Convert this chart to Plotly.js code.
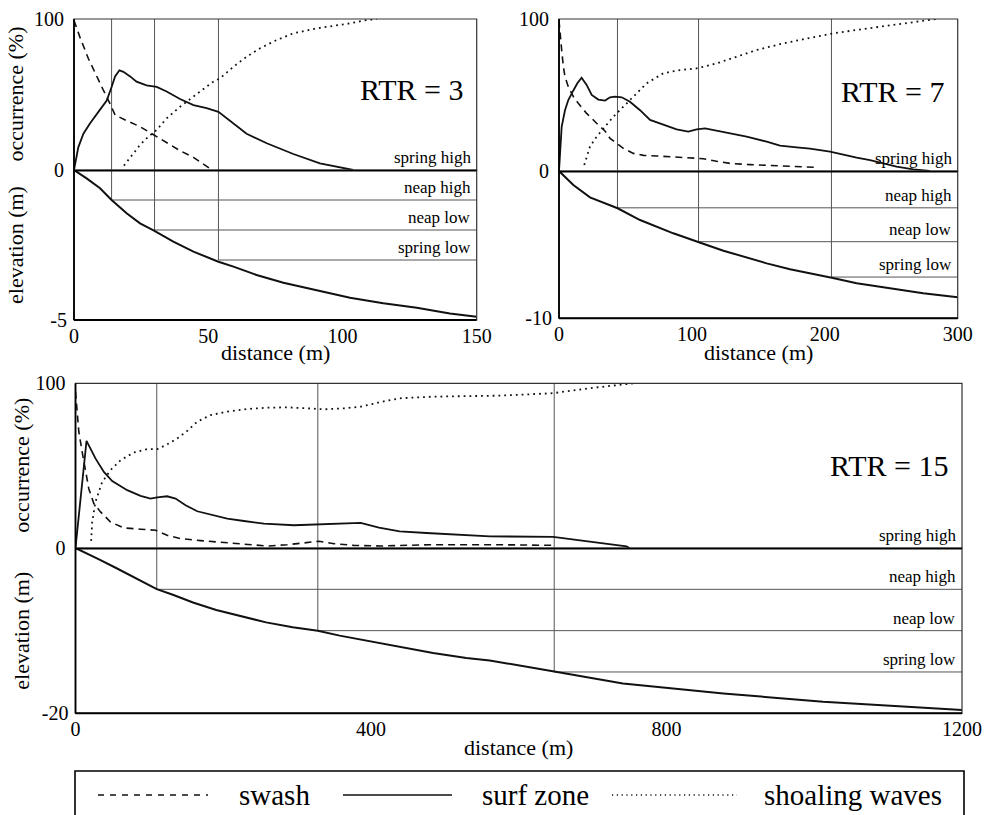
<!DOCTYPE html>
<html><head><meta charset="utf-8">
<script src="https://cdn.plot.ly/plotly-3.0.1.min.js"></script>
<style>html,body{margin:0;padding:0;background:#fff}#chart{width:988px;height:815px}</style>
</head><body><div id="chart"></div>
<script>
// ---------- DATA ----------
const tideNames = ['spring high', 'neap high', 'neap low', 'spring low'];
const seriesNames = ['swash', 'surf zone', 'shoaling waves'];

// RTR = 3
const rtr3XTicks = [0, 50, 100, 150];
const rtr3TideLevels = [0, -1, -2, -3];
const rtr3CrossX = [14, 30, 53.8];
const rtr3SwashX = [0, 2.2, 5.3, 8.4, 10.9, 13.4, 15.3, 19.6, 24.6, 29.8, 34.5, 39.5, 44.5, 50, 50.7];
const rtr3SwashY = [99, 88, 74, 62, 53, 44, 36.4, 32.7, 28.7, 23.2, 18.1, 12.8, 8.4, 2.2, 0.9];
const rtr3SurfX = [0, 1.6, 3.5, 6, 9.7, 12.2, 14, 15.3, 16.9, 18.4, 20.9, 23.3, 27, 30.8, 34.5, 39.5, 44.5, 49.4, 53.8, 59.4, 64.3, 71.8, 81.7, 91.6, 101.6, 104];
const rtr3SurfY = [0, 15, 24, 31, 40, 46, 55, 62, 66, 65, 62, 58.5, 56, 55, 52, 47, 43, 41, 38.5, 31, 24, 17.7, 10.6, 4.4, 1.1, 0];
const rtr3ShoalX = [18.6, 21.5, 24.6, 27.7, 30.8, 34.5, 39.5, 46.9, 51.9, 54.4, 59.4, 64.3, 69.3, 75.5, 81.7, 90.4, 96.6, 102.8, 109, 112.8];
const rtr3ShoalY = [2.9, 9.9, 16.6, 22.1, 26.5, 34.2, 41.9, 51.9, 58.5, 60.7, 68.4, 75, 80.6, 86.1, 90.5, 93.8, 95.4, 97.1, 99.3, 100];
const rtr3ElevX = [0, 4.7, 9.7, 14, 19.6, 24.6, 29.8, 37, 44.5, 53.8, 59.4, 68, 78, 90.4, 102.8, 115.2, 127.7, 140, 150];
const rtr3ElevY = [0, -0.28, -0.61, -1.0, -1.44, -1.78, -2.02, -2.39, -2.72, -3.06, -3.22, -3.5, -3.76, -4.02, -4.26, -4.44, -4.59, -4.78, -4.89];

// RTR = 7
const rtr7XTicks = [0, 100, 200, 300];
const rtr7TideLevels = [0, -2.5, -4.8, -7.2];
const rtr7CrossX = [44, 105, 205];
const rtr7SwashX = [0, 0.75, 2, 3.3, 4.5, 7, 10.8, 14.5, 20.8, 28.3, 34.6, 38.4, 43.4, 48.4, 55.9, 63.5, 73.5, 83.5, 98.6, 108.6, 118.6, 128.7, 143.7, 161.3, 178.8, 192.6];
const rtr7SwashY = [99, 90.6, 79.6, 68.6, 62, 55.5, 48.9, 44.5, 37.9, 31.4, 26.3, 21.5, 18.2, 14.9, 11.6, 10.3, 9.9, 9.4, 9, 8.1, 6.4, 5, 4.2, 3.5, 2.9, 2.4];
const rtr7SurfX = [0, 1.25, 2, 4.5, 7, 10.8, 13.8, 17, 20.8, 24.6, 29.6, 34.6, 38.4, 42.1, 47.2, 53.4, 61, 68.5, 78.5, 88.5, 97.3, 103.6, 109.9, 118.6, 128.7, 141.2, 156.3, 166.3, 178.8, 188.9, 203.9, 214, 224, 234, 244, 254, 266.6, 279];
const rtr7SurfY = [0, 20, 29, 40, 46.7, 53, 57.7, 61.4, 56.6, 50, 47, 46.3, 48.5, 48.9, 48.5, 45.6, 40, 33.6, 30.3, 27.4, 25.9, 27.4, 28.1, 26.5, 24.8, 22.6, 19.3, 16.7, 15.6, 14.7, 12.7, 10.5, 8.8, 7.2, 5, 2.9, 1.1, 0];
const rtr7ShoalX = [19, 20.8, 23.3, 28.3, 34.6, 40.9, 48.4, 55.9, 66, 78.5, 91, 103.6, 118.6, 133.7, 148.7, 168.8, 188.9, 206.4, 224, 249, 269, 284];
const rtr7ShoalY = [4, 9.4, 16, 22.6, 29.2, 35.7, 42.3, 48.9, 57.7, 64.3, 66.4, 67.5, 70.8, 75.2, 79.6, 84, 87.3, 90.6, 92.8, 96, 98.2, 100];
const rtr7ElevX = [0, 10.8, 23.3, 44.1, 61, 86, 105.3, 123.7, 156.3, 173.8, 205.2, 224, 249, 274, 300];
const rtr7ElevY = [0, -0.95, -1.79, -2.53, -3.33, -4.23, -4.84, -5.41, -6.27, -6.67, -7.24, -7.62, -7.96, -8.3, -8.57];

// RTR = 15
const rtr15XTicks = [0, 400, 800, 1200];
const rtr15TideLevels = [0, -5, -10, -15];
const rtr15CrossX = [110, 328, 648];
const rtr15SwashX = [0, 2.3, 4.5, 9, 13.5, 18, 24.8, 33.9, 47.4, 65.5, 88, 108.4, 124, 142.2, 169.3, 205.4, 232.5, 259.6, 286.7, 313.8, 329.6, 350, 377, 413, 480, 570, 648];
const rtr15SwashY = [95, 80.7, 70.6, 58.4, 46.2, 36, 27, 21.9, 15.8, 12.2, 11.4, 10.8, 7.7, 5.7, 4.5, 3.2, 2, 1.2, 2, 3.2, 4.1, 2.6, 1.6, 1.2, 2, 2, 1.6];
const rtr15SurfX = [0, 14.9, 27, 38.4, 49.7, 70, 88, 101.6, 110.6, 124, 135.4, 149, 164.8, 182.8, 205.4, 228, 255, 295.7, 329.6, 372.5, 386, 410.8, 438.8, 475, 529, 561, 646.5, 696, 745.8, 750];
const rtr15SurfY = [0, 65, 54.4, 46.2, 40.6, 35.1, 31.6, 30, 30.8, 31.4, 30, 26, 22.3, 20.3, 17.8, 16.4, 14.8, 13.8, 14.4, 15.4, 15.2, 12.4, 10.1, 9.1, 8.1, 7.1, 6.7, 4, 1, 0];
const rtr15ShoalX = [21.2, 22.6, 27, 36, 47.4, 61, 79, 97, 110.6, 124, 137.7, 151, 164.8, 182.8, 205.4, 232.5, 259.6, 286.7, 313.8, 336.3, 363.4, 386, 416, 438.8, 484, 529, 574, 646.5, 696, 755];
const rtr15ShoalY = [4.3, 15.8, 28, 40, 47.3, 53.3, 58, 60, 60, 62.9, 66.5, 71, 76.7, 80.7, 82.8, 84.4, 85.2, 85.4, 84.8, 84.2, 84.8, 85.8, 88.9, 90.9, 91.9, 92.3, 92.5, 94, 97, 100];
const rtr15ElevX = [0, 14.4, 32.5, 55, 77.7, 110, 131.8, 159, 190.5, 222, 258, 294, 328, 357.6, 393.7, 438.8, 484, 529, 560.7, 648, 741, 877, 1012, 1200];
const rtr15ElevY = [0, -0.6, -1.41, -2.42, -3.5, -4.97, -5.66, -6.6, -7.5, -8.2, -9.0, -9.6, -10.0, -10.6, -11.2, -11.9, -12.7, -13.3, -13.6, -14.95, -16.4, -17.6, -18.6, -19.6];

// ---------- STYLE / LAYOUT ----------
const FONT = 'Liberation Serif, Times New Roman, serif';
const W = 988, H = 815;
const px = v => v / W;
const py = v => 1 - v / H;
const DASH = '7px,5px';
const DOT = '1.8px,4px';

const panels = [
  {xa:'x', yo:'y', ye:'y2', xmax:150, elevMin:-5, xdom:[px(74), px(476.7)], yO:[py(170), py(19)], yE:[py(320), py(170)],
   xticks:rtr3XTicks, levels:rtr3TideLevels, cross:rtr3CrossX, label:'RTR = 3', titles:true, titleX:px(15), distY:py(353),
   swash:[rtr3SwashX, rtr3SwashY], surf:[rtr3SurfX, rtr3SurfY], shoal:[rtr3ShoalX, rtr3ShoalY], elev:[rtr3ElevX, rtr3ElevY], labelY:0.53},
  {xa:'x2', yo:'y3', ye:'y4', xmax:300, elevMin:-10, xdom:[px(559), px(957.7)], yO:[py(171), py(19)], yE:[py(318.3), py(171)],
   xticks:rtr7XTicks, levels:rtr7TideLevels, cross:rtr7CrossX, label:'RTR = 7', titles:false, distY:py(353),
   swash:[rtr7SwashX, rtr7SwashY], surf:[rtr7SurfX, rtr7SurfY], shoal:[rtr7ShoalX, rtr7ShoalY], elev:[rtr7ElevX, rtr7ElevY], labelY:0.52},
  {xa:'x3', yo:'y5', ye:'y6', xmax:1200, elevMin:-20, xdom:[px(75.5), px(962)], yO:[py(548), py(383.3)], yE:[py(713.3), py(548)],
   xticks:rtr15XTicks, levels:rtr15TideLevels, cross:rtr15CrossX, label:'RTR = 15', titles:true, titleX:px(22), distY:py(747),
   swash:[rtr15SwashX, rtr15SwashY], surf:[rtr15SurfX, rtr15SurfY], shoal:[rtr15ShoalX, rtr15ShoalY], elev:[rtr15ElevX, rtr15ElevY], labelY:0.50}
];

const axKey = (id) => (id[0] === 'x' ? 'xaxis' : 'yaxis') + id.slice(1);

const traces = [];
const shapes = [];
const annotations = [];
const layout = {
  width: W, height: H,
  margin: {l:0, r:0, t:0, b:0},
  paper_bgcolor: '#fff', plot_bgcolor: 'rgba(0,0,0,0)',
  showlegend: false,
  font: {family: FONT, color: '#000', size: 20}
};

panels.forEach(p => {
  const tickfont = {family: FONT, size: 20, color: '#000'};
  layout[axKey(p.xa)] = {
    domain: p.xdom, anchor: p.ye, range: [0, p.xmax], tickvals: p.xticks, ticktext: p.xticks.map(String),
    showgrid: false, zeroline: false, showline: false, ticks: '', tickfont: tickfont, ticklabelstandoff: 2, fixedrange: true
  };
  layout[axKey(p.yo)] = {
    domain: p.yO, anchor: p.xa, range: [0, 100], tickvals: [0, 100], ticktext: ['0', '100'],
    showgrid: false, zeroline: false, showline: false, ticks: '', tickfont: tickfont, ticklabelstandoff: 9, fixedrange: true
  };
  layout[axKey(p.ye)] = {
    domain: p.yE, anchor: p.xa, range: [p.elevMin, 0], tickvals: [p.elevMin], ticktext: [String(p.elevMin)],
    showgrid: false, zeroline: false, showline: false, ticks: '', tickfont: tickfont, ticklabelstandoff: 6, fixedrange: true
  };

  // curves
  traces.push({x: p.swash[0], y: p.swash[1], xaxis: p.xa, yaxis: p.yo, mode: 'lines', name: seriesNames[0],
    line: {color: '#111', width: 1.6, dash: DASH}, hoverinfo: 'skip'});
  traces.push({x: p.surf[0], y: p.surf[1], xaxis: p.xa, yaxis: p.yo, mode: 'lines', name: seriesNames[1],
    line: {color: '#111', width: 1.8}, hoverinfo: 'skip'});
  traces.push({x: p.shoal[0], y: p.shoal[1], xaxis: p.xa, yaxis: p.yo, mode: 'lines', name: seriesNames[2],
    line: {color: '#111', width: 1.8, dash: DOT}, hoverinfo: 'skip'});
  traces.push({x: p.elev[0], y: p.elev[1], xaxis: p.xa, yaxis: p.ye, mode: 'lines', name: 'profile',
    line: {color: '#111', width: 2}, hoverinfo: 'skip'});

  // frame
  [p.yo, p.ye].forEach(ya => {
    shapes.push({type: 'rect', xref: p.xa + ' domain', yref: ya + ' domain', x0: 0, x1: 1, y0: 0, y1: 1,
      line: {color: '#333', width: 1.2}, layer: 'above'});
  });
  shapes.push({type: 'line', xref: p.xa + ' domain', yref: p.yo + ' domain', x0: 0, x1: 0, y0: 0, y1: 1, line: {color: '#000', width: 1.8}});
  shapes.push({type: 'line', xref: p.xa + ' domain', yref: p.ye + ' domain', x0: 0, x1: 0, y0: 0, y1: 1, line: {color: '#000', width: 1.8}});
  shapes.push({type: 'line', xref: p.xa + ' domain', yref: p.ye + ' domain', x0: 0, x1: 1, y0: 0, y1: 0, line: {color: '#000', width: 2}});

  // thick spring-high line at elevation 0
  shapes.push({type: 'line', xref: p.xa, yref: p.ye, x0: 0, x1: p.xmax, y0: p.levels[0], y1: p.levels[0],
    line: {color: '#000', width: 3}});

  // vertical lines at tide crossings + horizontal tide lines
  p.cross.forEach((cx, i) => {
    const lev = p.levels[i + 1];
    shapes.push({type: 'line', xref: p.xa, yref: p.yo, x0: cx, x1: cx, y0: 0, y1: 100, line: {color: '#555', width: 1}, layer: 'below'});
    shapes.push({type: 'line', xref: p.xa, yref: p.ye, x0: cx, x1: cx, y0: 0, y1: lev, line: {color: '#555', width: 1}, layer: 'below'});
    shapes.push({type: 'line', xref: p.xa, yref: p.ye, x0: cx, x1: p.xmax, y0: lev, y1: lev, line: {color: '#555', width: 1}, layer: 'below'});
  });

  // tide labels
  p.levels.forEach((lev, i) => {
    annotations.push({xref: p.xa, yref: p.ye, x: p.xmax, y: lev, text: tideNames[i], showarrow: false,
      xanchor: 'right', yanchor: 'bottom', xshift: -4, yshift: 1, font: {family: FONT, size: 17, color: '#000'}});
  });

  // RTR label
  annotations.push({xref: p.xa + ' domain', yref: p.yo + ' domain', x: 1, y: p.labelY, text: p.label, showarrow: false,
    xanchor: 'right', yanchor: 'middle', xshift: -12, font: {family: FONT, size: 30, color: '#000'}});

  // axis titles
  annotations.push({xref: 'paper', yref: 'paper', x: (p.xdom[0] + p.xdom[1]) / 2, y: p.distY, text: 'distance (m)', showarrow: false,
    xanchor: 'center', yanchor: 'middle', font: {family: FONT, size: 22, color: '#000'}});
  if (p.titles) {
    annotations.push({xref: 'paper', yref: 'paper', x: p.titleX, y: (p.yO[0] + p.yO[1]) / 2, text: 'occurrence (%)', showarrow: false,
      textangle: -90, xanchor: 'center', yanchor: 'middle', font: {family: FONT, size: 22, color: '#000'}});
    annotations.push({xref: 'paper', yref: 'paper', x: p.titleX, y: (p.yE[0] + p.yE[1]) / 2, text: 'elevation (m)', showarrow: false,
      textangle: -90, xanchor: 'center', yanchor: 'middle', font: {family: FONT, size: 22, color: '#000'}});
  }
});

// legend box
const legY = py(795);
shapes.push({type: 'rect', xref: 'paper', yref: 'paper', x0: px(75), x1: px(964), y0: -0.05, y1: py(771), line: {color: '#000', width: 1.6}});
const legendItems = [
  {dash: '6px,6px', x0: 98, x1: 208, tx: 237},
  {dash: 'solid', x0: 343, x1: 452, tx: 480},
  {dash: '1.2px,3.6px', x0: 612, x1: 737, tx: 762}
];
legendItems.forEach((it, i) => {
  shapes.push({type: 'line', xref: 'paper', yref: 'paper', x0: px(it.x0), x1: px(it.x1), y0: legY, y1: legY,
    line: {color: '#111', width: 1.4, dash: it.dash}});
  annotations.push({xref: 'paper', yref: 'paper', x: px(it.tx), y: legY, text: seriesNames[i], showarrow: false,
    xanchor: 'left', yanchor: 'middle', font: {family: FONT, size: 29, color: '#000'}});
});

layout.shapes = shapes;
layout.annotations = annotations;

Plotly.newPlot('chart', traces, layout, {staticPlot: true, displayModeBar: false});
</script>
</body></html>
